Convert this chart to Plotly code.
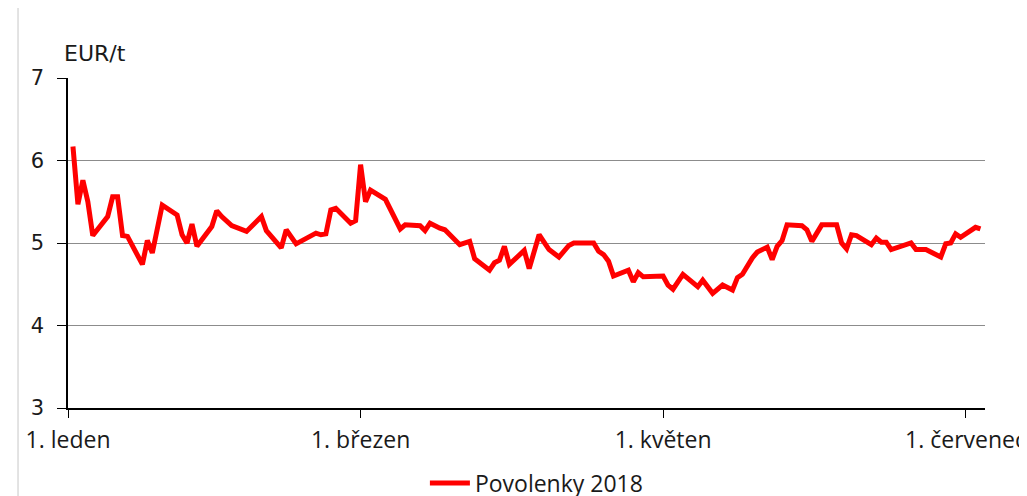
import plotly.graph_objects as go

dates = [
    "2018-01-02", "2018-01-03", "2018-01-04", "2018-01-05", "2018-01-06", "2018-01-09",
    "2018-01-10", "2018-01-11", "2018-01-12", "2018-01-13", "2018-01-16", "2018-01-17",
    "2018-01-18", "2018-01-20", "2018-01-23", "2018-01-24", "2018-01-25", "2018-01-26",
    "2018-01-27", "2018-01-30", "2018-01-31", "2018-02-01", "2018-02-03", "2018-02-06",
    "2018-02-07", "2018-02-09", "2018-02-10", "2018-02-13", "2018-02-14", "2018-02-16",
    "2018-02-20", "2018-02-21", "2018-02-22", "2018-02-23", "2018-02-24", "2018-02-27",
    "2018-02-28", "2018-03-01", "2018-03-02", "2018-03-03", "2018-03-06", "2018-03-07",
    "2018-03-09", "2018-03-10", "2018-03-13", "2018-03-14", "2018-03-15", "2018-03-17",
    "2018-03-18", "2018-03-21", "2018-03-23", "2018-03-24", "2018-03-27", "2018-03-28",
    "2018-03-29", "2018-03-30", "2018-03-31", "2018-04-03", "2018-04-04", "2018-04-06",
    "2018-04-08", "2018-04-10", "2018-04-12", "2018-04-13", "2018-04-17", "2018-04-18",
    "2018-04-19", "2018-04-20", "2018-04-21", "2018-04-24", "2018-04-25", "2018-04-26",
    "2018-04-27", "2018-05-01", "2018-05-02", "2018-05-03", "2018-05-05", "2018-05-08",
    "2018-05-09", "2018-05-11", "2018-05-13", "2018-05-15", "2018-05-16", "2018-05-17",
    "2018-05-19", "2018-05-20", "2018-05-22", "2018-05-23", "2018-05-24", "2018-05-25",
    "2018-05-26", "2018-05-29", "2018-05-30", "2018-05-31", "2018-06-02", "2018-06-05",
    "2018-06-06", "2018-06-07", "2018-06-08", "2018-06-09", "2018-06-12", "2018-06-13",
    "2018-06-14", "2018-06-15", "2018-06-16", "2018-06-20", "2018-06-21", "2018-06-23",
    "2018-06-26", "2018-06-27", "2018-06-28", "2018-06-29", "2018-06-30", "2018-07-03",
    "2018-07-04",
]

povolenky_2018 = [
    6.17, 5.47, 5.76, 5.50, 5.09, 5.32,
    5.56, 5.56, 5.09, 5.08, 4.74, 5.03,
    4.88, 5.46, 5.34, 5.10, 5.00, 5.23,
    4.96, 5.20, 5.39, 5.32, 5.21, 5.14,
    5.20, 5.32, 5.15, 4.94, 5.16, 4.99,
    5.12, 5.10, 5.11, 5.40, 5.42, 5.24,
    5.27, 5.95, 5.50, 5.64, 5.53, 5.40,
    5.17, 5.22, 5.21, 5.15, 5.24, 5.18,
    5.16, 4.98, 5.02, 4.81, 4.67, 4.76,
    4.79, 4.96, 4.74, 4.91, 4.69, 5.10,
    4.92, 4.83, 4.97, 5.00, 5.00, 4.90,
    4.86, 4.78, 4.60, 4.67, 4.53, 4.64,
    4.59, 4.60, 4.49, 4.44, 4.62, 4.47,
    4.55, 4.39, 4.49, 4.43, 4.58, 4.62,
    4.82, 4.89, 4.95, 4.80, 4.96, 5.03,
    5.22, 5.21, 5.16, 5.02, 5.22, 5.22,
    5.00, 4.93, 5.10, 5.09, 4.98, 5.06,
    5.01, 5.01, 4.92, 5.00, 4.92, 4.92,
    4.83, 4.99, 5.00, 5.11, 5.07, 5.19,
    5.17,
]

x_tick_vals = ["2018-01-01", "2018-03-01", "2018-05-01", "2018-07-01"]
x_tick_text = ["1. leden", "1. březen", "1. květen", "1. červenec"]
y_tick_vals = [3, 4, 5, 6, 7]

XFONT = "Open Sans"
YFONT = "DejaVu Sans"
TXT = "#1a1a1a"

fig = go.Figure()
fig.add_trace(go.Scatter(
    x=dates, y=povolenky_2018, mode="lines", name="Povolenky 2018",
    line=dict(color="#FF0000", width=5),
))

fig.update_layout(
    width=1027, height=496,
    margin=dict(l=60, r=50, t=70, b=96, autoexpand=False),
    paper_bgcolor="white", plot_bgcolor="white",
    font=dict(family=XFONT, size=18, color=TXT),
    showlegend=True,
    legend=dict(orientation="h", xref="container", yref="container",
                x=0.515, xanchor="center", y=0.042, yanchor="middle",
                font=dict(family=XFONT, size=23, color=TXT), itemwidth=40),
    xaxis=dict(
        type="date", range=["2018-01-01", "2018-07-04T22:00"], automargin=False,
        tickmode="array", tickvals=x_tick_vals, ticktext=x_tick_text,
        showgrid=False, showline=True, linecolor="black", linewidth=1.5,
        ticks="outside", ticklen=8, tickcolor="black", zeroline=False,
        ticklabelstandoff=3,
        tickfont=dict(family=XFONT, size=23, color=TXT),
    ),
    yaxis=dict(
        range=[3, 7], tickmode="array", tickvals=y_tick_vals, automargin=False,
        showgrid=True, gridcolor="#8c8c8c", gridwidth=1,
        showline=True, linecolor="black", linewidth=1.5,
        ticks="outside", ticklen=9, tickcolor="black", zeroline=False,
        ticklabelstandoff=9,
        tickfont=dict(family=YFONT, size=21, color=TXT),
    ),
    annotations=[dict(
        text="EUR/t", xref="paper", yref="paper", x=0, y=1, xanchor="left", yanchor="bottom",
        xshift=-6, yshift=10, showarrow=False, font=dict(family=YFONT, size=22, color=TXT),
    )],
    shapes=[dict(type="line", xref="paper", yref="paper", x0=-0.0545, x1=-0.0545, y0=-0.3, y1=1.22,
                 line=dict(color="#c8c8c8", width=1))],
)

fig.write_html("out.html")
